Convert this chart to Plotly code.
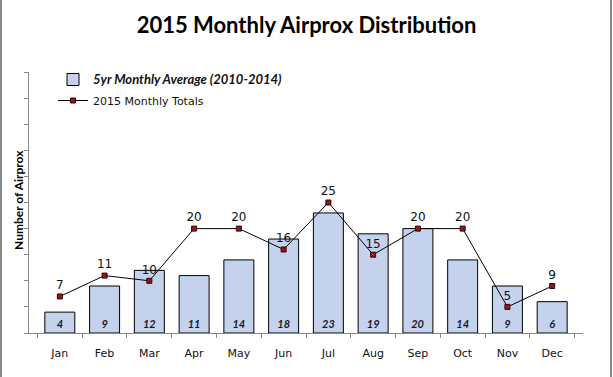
import plotly.graph_objects as go

months = ["Jan", "Feb", "Mar", "Apr", "May", "Jun", "Jul", "Aug", "Sep", "Oct", "Nov", "Dec"]
avg_2010_2014 = [4, 9, 12, 11, 14, 18, 23, 19, 20, 14, 9, 6]
totals_2015 = [7, 11, 10, 20, 20, 16, 25, 15, 20, 20, 5, 9]

W, H = 613, 377
ML, MR, MT, MB = 29, 30, 72, 44
pw = W - ML - MR
ph = H - MT - MB

fig = go.Figure()
fig.add_trace(go.Bar(
    x=months, y=avg_2010_2014,
    name="<span style='font-family:Lato;font-size:13px'><b><i>5yr Monthly Average (2010-2014)</i></b></span>",
    legendgroup="a",
    marker=dict(color="#c4d2ee", line=dict(color="#000000", width=1)),
    text=[str(v) for v in avg_2010_2014],
    textposition="inside", insidetextanchor="start",
    textangle=0,
    textfont=dict(family="Lato", size=11, color="#1a1a2a", weight="bold", style="italic"),
    cliponaxis=False,
))
fig.add_trace(go.Scatter(
    x=months, y=totals_2015,
    name="2015 Monthly Totals",
    legendgroup="b",
    mode="lines+markers+text",
    line=dict(color="#000000", width=1),
    marker=dict(symbol="square", size=5, color="#8b1a1a", line=dict(color="#3a0000", width=1)),
    text=[str(v) for v in totals_2015],
    textposition="top center",
    textfont=dict(family="DejaVu Sans", size=12, color="#111111"),
    cliponaxis=False,
))

fig.update_layout(
    width=W, height=H,
    margin=dict(l=ML, r=MR, t=MT, b=MB),
    paper_bgcolor="white", plot_bgcolor="white",
    bargap=0.33,
    showlegend=True,
    legend=dict(x=(53 - ML) / pw, y=1 + 7 / ph, xanchor="left", yanchor="top",
                bgcolor="rgba(0,0,0,0)", tracegroupgap=2,
                font=dict(family="DejaVu Sans", size=11, color="#111111"),
                itemwidth=30),
    title=dict(text="<b>2015 Monthly Airprox Distribution</b>", x=0.5, xanchor="center",
               y=1 - 25 / H, yanchor="middle",
               font=dict(family="Lato", size=22, color="#000000")),
    font=dict(family="DejaVu Sans", size=11, color="#111111"),
)
fig.update_xaxes(
    showline=True, linecolor="#888888", linewidth=1,
    ticks="outside", tickson="boundaries", ticklen=4, tickcolor="#888888",
    tickfont=dict(family="DejaVu Sans", size=11, color="#111111"),
    ticklabelstandoff=10,
    showgrid=False, zeroline=False,
)
fig.update_yaxes(
    range=[0, 50], dtick=5,
    showline=True, linecolor="#888888", linewidth=1,
    ticks="outside", ticklen=4, tickcolor="#888888",
    showticklabels=False, showgrid=False, zeroline=False,
)
fig.add_annotation(
    text="<b>Number of Airprox</b>", textangle=-90,
    xref="paper", yref="paper", x=(18 - ML) / pw, y=(333 - 200) / ph,
    xanchor="center", yanchor="middle", showarrow=False,
    font=dict(family="Lato", size=12, color="#000000"),
)
# outer chart border (left and right edges visible)
for px in (1, 611):
    fig.add_shape(type="line", xref="paper", yref="paper",
                  x0=(px - ML) / pw, x1=(px - ML) / pw,
                  y0=-MB / ph - 0.05, y1=1 + MT / ph + 0.05,
                  line=dict(color="#888888", width=2))

fig.write_html("out.html",
               config={"displayModeBar": False},
               post_script="document.body.style.margin='0';document.body.style.overflow='hidden';")
